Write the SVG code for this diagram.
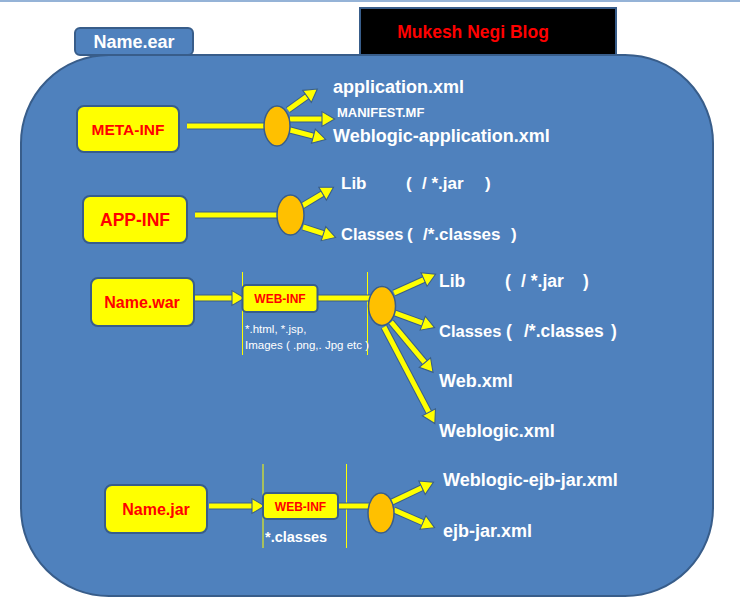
<svg xmlns="http://www.w3.org/2000/svg" width="740" height="607" viewBox="0 0 740 607">
<defs>
<style>
.bg{fill:#4f81bd;stroke:#385d8a;stroke-width:2}
.yb{fill:#ffff00;stroke:#385d8a;stroke-width:2}
.el{fill:#ffc000;stroke:#385d8a;stroke-width:1.5}
.ol{stroke:#385d8a;stroke-width:7;fill:none}
.yl{stroke:#ffff00;stroke-width:5;fill:none}
.ar{marker-end:url(#ah)}
.vl{stroke:#ffff00;stroke-width:1}
text{font-family:"Liberation Sans",Arial,sans-serif}
.w{fill:#ffffff;font-weight:bold}
.r{fill:#ff0000;font-weight:bold;text-anchor:middle}
.s{fill:#ffffff;font-size:11.5px}
</style>
<marker id="ah" markerUnits="userSpaceOnUse" markerWidth="16" markerHeight="18" viewBox="-1 -1 15 17" refX="0" refY="7" orient="auto">
<path d="M0,0 L12,7 L0,14 z" fill="#ffff00" stroke="#385d8a" stroke-width="1"/>
</marker>
</defs>
<rect width="740" height="607" fill="#ffffff"/>
<line x1="0" y1="1" x2="740" y2="1" stroke="#95b3d7" stroke-width="2"/>

<g id="ear-container">
<rect class="bg" x="21" y="55" width="692" height="541" rx="88" ry="88"/>
</g>
<g id="name-ear">
<rect class="bg" x="75" y="28" width="118" height="27" rx="5"/>
<text class="w" x="134" y="48" text-anchor="middle" font-size="18">Name.ear</text>
</g>
<g id="blog-title">
<rect x="360" y="8" width="256" height="47" fill="#000000" stroke="#385d8a" stroke-width="2"/>
<text x="473" y="38" text-anchor="middle" fill="#ff0000" font-weight="bold" font-size="17.5">Mukesh Negi Blog</text>
</g>

<g id="dividers">
<line class="vl" x1="242.5" y1="272" x2="242.5" y2="355"/>
<line class="vl" x1="367.5" y1="272" x2="367.5" y2="355"/>
<line class="vl" x1="263" y1="464" x2="263" y2="548"/>
<line class="vl" x1="346.5" y1="464" x2="346.5" y2="548"/>
</g>

<g id="connectors">
<g class="ol">
<line x1="187" y1="126" x2="265" y2="126"/>
<line x1="288" y1="110" x2="307" y2="96.4"/>
<line x1="290" y1="119" x2="322" y2="119"/>
<line x1="290" y1="130" x2="313.4" y2="136.2"/>
<line x1="195" y1="215" x2="278" y2="215"/>
<line x1="302" y1="206" x2="322.6" y2="193.7"/>
<line x1="303" y1="227" x2="323.5" y2="233.6"/>
<line x1="195" y1="298" x2="232" y2="298"/>
<line x1="318" y1="298" x2="370" y2="298"/>
<line x1="394" y1="293" x2="424" y2="279.5"/>
<line x1="395" y1="313" x2="422.7" y2="323.2"/>
<line x1="391" y1="322" x2="424.9" y2="362.6"/>
<line x1="384" y1="327" x2="428.9" y2="412.3"/>
<line x1="209" y1="506" x2="252" y2="506"/>
<line x1="338" y1="506" x2="369" y2="506"/>
<line x1="392" y1="502" x2="422" y2="487.7"/>
<line x1="394" y1="510" x2="422.9" y2="522.6"/>
</g>
<g class="yl">
<line x1="187" y1="126" x2="265" y2="126"/>
<line class="ar" x1="288" y1="110" x2="307" y2="96.4"/>
<line class="ar" x1="290" y1="119" x2="322" y2="119"/>
<line class="ar" x1="290" y1="130" x2="313.4" y2="136.2"/>
<line x1="195" y1="215" x2="278" y2="215"/>
<line class="ar" x1="302" y1="206" x2="322.6" y2="193.7"/>
<line class="ar" x1="303" y1="227" x2="323.5" y2="233.6"/>
<line class="ar" x1="195" y1="298" x2="232" y2="298"/>
<line x1="318" y1="298" x2="370" y2="298"/>
<line class="ar" x1="394" y1="293" x2="424" y2="279.5"/>
<line class="ar" x1="395" y1="313" x2="422.7" y2="323.2"/>
<line class="ar" x1="391" y1="322" x2="424.9" y2="362.6"/>
<line class="ar" x1="384" y1="327" x2="428.9" y2="412.3"/>
<line class="ar" x1="209" y1="506" x2="252" y2="506"/>
<line x1="338" y1="506" x2="369" y2="506"/>
<line class="ar" x1="392" y1="502" x2="422" y2="487.7"/>
<line class="ar" x1="394" y1="510" x2="422.9" y2="522.6"/>
</g>
</g>

<g id="meta-inf">
<rect class="yb" x="77" y="106" width="102" height="46" rx="7"/>
<text class="r" x="128" y="135" font-size="15.5">META-INF</text>
</g>
<g id="meta-junction"><ellipse class="el" cx="277" cy="126" rx="13" ry="20"/></g>
<g id="meta-files">
<text class="w" x="333" y="93" font-size="18">application.xml</text>
<text class="w" x="337" y="117" font-size="13">MANIFEST.MF</text>
<text class="w" x="333" y="142" font-size="18">Weblogic-application.xml</text>
</g>

<g id="app-inf">
<rect class="yb" x="83" y="196" width="104" height="47" rx="7"/>
<text class="r" x="135" y="226" font-size="17.5">APP-INF</text>
</g>
<g id="app-junction"><ellipse class="el" cx="290.5" cy="215" rx="13.5" ry="20"/></g>
<g id="app-files" font-size="17">
<text class="w" x="341" y="189">Lib</text>
<text class="w" x="406" y="189">(</text>
<text class="w" x="422" y="189">/ *.jar</text>
<text class="w" x="485" y="189">)</text>
<text class="w" x="341" y="240" font-size="16.5">Classes</text>
<text class="w" x="407" y="240">(</text>
<text class="w" x="423" y="240">/*.classes</text>
<text class="w" x="511" y="240">)</text>
</g>

<g id="name-war">
<rect class="yb" x="91" y="278" width="103" height="48" rx="7"/>
<text class="r" x="142" y="308" font-size="16">Name.war</text>
</g>
<g id="war-web-inf">
<rect class="yb" x="242.5" y="285" width="75" height="27" rx="4"/>
<text class="r" x="280" y="303" font-size="12">WEB-INF</text>
<text class="s" x="245" y="333">*.html, *.jsp,</text>
<text class="s" x="245" y="349">Images ( .png,. Jpg etc )</text>
</g>
<g id="war-junction"><ellipse class="el" cx="382" cy="306" rx="13.5" ry="19.5"/></g>
<g id="war-files" font-size="17.5">
<text class="w" x="439" y="287">Lib</text>
<text class="w" x="505" y="287">(</text>
<text class="w" x="521" y="287">/ *.jar</text>
<text class="w" x="583" y="287">)</text>
<text class="w" x="439" y="337" font-size="16.5">Classes</text>
<text class="w" x="506" y="337">(</text>
<text class="w" x="524" y="337">/*.classes</text>
<text class="w" x="611" y="337">)</text>
<text class="w" x="439" y="387" font-size="18">Web.xml</text>
<text class="w" x="439" y="437" font-size="18">Weblogic.xml</text>
</g>

<g id="name-jar">
<rect class="yb" x="105" y="485" width="102" height="48" rx="7"/>
<text class="r" x="156" y="515" font-size="16">Name.jar</text>
</g>
<g id="jar-web-inf">
<rect class="yb" x="263" y="493" width="75" height="26" rx="4"/>
<text class="r" x="300.5" y="511" font-size="12">WEB-INF</text>
<text class="w" x="265" y="542" font-size="14.5">*.classes</text>
</g>
<g id="jar-junction"><ellipse class="el" cx="381" cy="513" rx="13" ry="20"/></g>
<g id="jar-files" font-size="18">
<text class="w" x="443" y="486">Weblogic-ejb-jar.xml</text>
<text class="w" x="443" y="537">ejb-jar.xml</text>
</g>
</svg>
